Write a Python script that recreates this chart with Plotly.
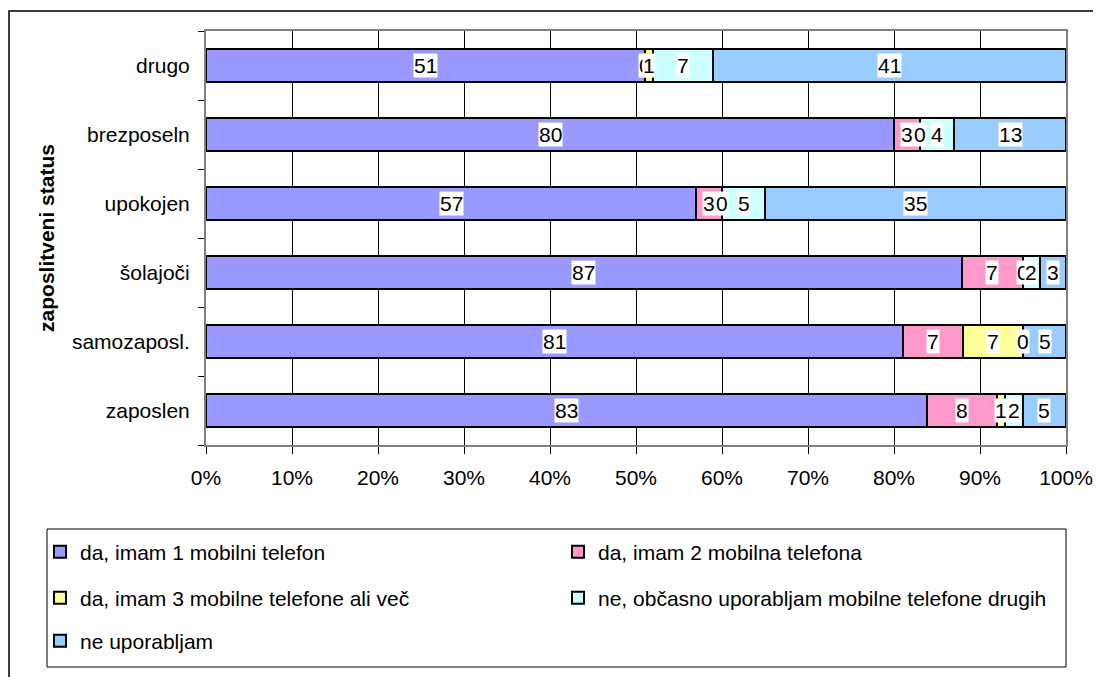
import plotly.graph_objects as go

categories = ["zaposlen", "samozaposl.", "šolajoči", "upokojen", "brezposeln", "drugo"]
series_names = [
    "da, imam 1 mobilni telefon",
    "da, imam 2 mobilna telefona",
    "da, imam 3 mobilne telefone ali več",
    "ne, občasno uporabljam mobilne telefone drugih",
    "ne uporabljam",
]
s_one = [83, 81, 87, 57, 80, 51]
s_two = [8, 7, 7, 3, 3, 0]
s_three = [1, 7, 0, 0, 0, 1]
s_occasional = [2, 0, 2, 5, 4, 7]
s_none = [5, 5, 3, 35, 13, 41]
series_values = [s_one, s_two, s_three, s_occasional, s_none]
colors = ["#9999FF", "#FF99CC", "#FFFF99", "#CCFFFF", "#99CCFF"]
x_ticks = [0, 10, 20, 30, 40, 50, 60, 70, 80, 90, 100]
x_tick_labels = [f"{t}%" for t in x_ticks]
y_title = "zaposlitveni status"

# page body has an 8px margin: work in window pixels, convert to figure pixels
OFF = 8
W, H = 1101 - OFF, 677 - OFF
L, R, T, B = 206 - OFF, 1066 - OFF, 31 - OFF, 445 - OFF
FONT = "Liberation Sans, Arial, sans-serif"
FS = 21


def px_x(p):
    return (p - OFF - L) / (R - L)


def px_y(p):
    return (B - (p - OFF)) / (B - T)


fig = go.Figure()
legend_ids = ["legend", "legend2", "legend3", "legend4", "legend5"]
for name, vals, col, lg in zip(series_names, series_values, colors, legend_ids):
    fig.add_trace(go.Bar(
        y=categories, x=vals, name=name, orientation="h",
        marker=dict(color=col, line=dict(color="#000000", width=2)),
        legend=lg, showlegend=True, hoverinfo="x+y+name",
    ))

# data labels (centered in each normalized segment)
totals = [sum(v[i] for v in series_values) for i in range(len(categories))]
annotations = []
cum = [0] * len(categories)
for vals in series_values:
    for i, c in enumerate(categories):
        center = (cum[i] + vals[i] / 2) / totals[i] * 100
        annotations.append(dict(
            x=center, y=c, xref="x", yref="y", text=str(vals[i]), showarrow=False,
            font=dict(family=FONT, size=FS, color="#000000"),
            bgcolor="#FFFFFF", borderpad=0,
        ))
        cum[i] += vals[i]

# legend placement (two columns)
legend_pos = [(40, 552), (558, 552), (40, 598), (558, 598), (40, 641)]
legend_layout = {}
for lg, (lx, ly) in zip(legend_ids, legend_pos):
    legend_layout[lg] = dict(
        x=px_x(lx), y=px_y(ly), xref="paper", yref="paper",
        xanchor="left", yanchor="middle", visible=True,
        font=dict(family=FONT, size=FS, color="#000000"),
        bgcolor="rgba(0,0,0,0)", borderwidth=0,
    )

shapes = [
    # outer chart frame
    dict(type="rect", xref="paper", yref="paper",
         x0=px_x(9), x1=px_x(1120), y0=px_y(720), y1=px_y(11),
         line=dict(color="#000000", width=1.5), fillcolor="rgba(0,0,0,0)", layer="below"),
    # legend box
    dict(type="rect", xref="paper", yref="paper",
         x0=px_x(47), x1=px_x(1066), y0=px_y(667), y1=px_y(529),
         line=dict(color="#000000", width=1), fillcolor="rgba(0,0,0,0)", layer="below"),
]

fig.update_layout(
    width=W, height=H, showlegend=True,
    margin=dict(l=L, r=W - R, t=T, b=H - B, autoexpand=False),
    paper_bgcolor="#FFFFFF", plot_bgcolor="#FFFFFF",
    barmode="stack", barnorm="percent", bargap=0.52,
    font=dict(family=FONT, size=FS, color="#000000"),
    annotations=annotations, shapes=shapes,
    **legend_layout,
)

fig.update_xaxes(
    range=[0, 100], tickmode="array", tickvals=x_ticks, ticktext=x_tick_labels,
    showgrid=True, gridcolor="#000000", gridwidth=1, zeroline=False,
    showline=True, linecolor="#808080", linewidth=2, mirror=True,
    ticks="outside", ticklen=7, tickcolor="#000000", tickwidth=1,
    tickfont=dict(family=FONT, size=FS, color="#000000"),
    ticklabelstandoff=6, fixedrange=True,
)
fig.update_yaxes(
    type="category", categoryorder="array", categoryarray=categories,
    showgrid=False, zeroline=False,
    showline=True, linecolor="#808080", linewidth=2, mirror=True,
    ticks="outside", tickson="boundaries", ticklen=6, tickcolor="#000000", tickwidth=1,
    tickfont=dict(family=FONT, size=FS, color="#000000"),
    ticklabelstandoff=10,
    title=dict(text=f"<b>{y_title}</b>", font=dict(family=FONT, size=FS, color="#000000"), standoff=12),
    fixedrange=True,
)

fig.write_html("out.html")
